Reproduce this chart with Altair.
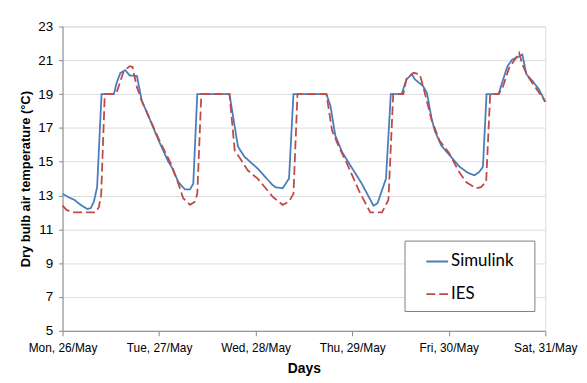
import altair as alt
import pandas as pd

# ---- data (hours since Mon 00:00) ----
sim_hours = [0, 1.5, 2.9, 4.5, 6.2, 7.0, 7.8, 8.6, 9.7, 12.75, 13.5, 14.4, 15.6, 16.7,
             18.5, 19.7, 21.0, 24.0, 26.3, 27.1, 28.8, 30.4, 31.7, 32.5, 33.5, 41.5,
             43.6, 45.2, 48.5, 52.2, 53.0, 54.7, 56.3, 57.4, 65.6, 66.6, 67.8, 69.5,
             71.5, 74.4, 77.3, 78.3, 80.4, 81.6, 84.3, 85.5, 86.8, 87.6, 89.6, 90.6,
             91.7, 92.5, 94.1, 96.6, 98.7, 100.8, 102.4, 103.6, 104.5, 105.4, 108.4,
             109.4, 110.6, 111.8, 113.1, 114.3, 115.3, 116.8, 118.4, 120.0]
sim_temp = [13.1, 12.9, 12.75, 12.45, 12.2, 12.25, 12.64, 13.5, 19.0, 19.0, 19.7, 20.26,
            20.42, 20.1, 20.07, 18.6, 17.9, 16.2, 15.0, 14.7, 13.8, 13.37, 13.37, 13.7,
            19.0, 19.0, 15.9, 15.3, 14.6, 13.62, 13.49, 13.43, 14.0, 19.0, 19.0, 18.3,
            16.55, 15.57, 14.8, 13.7, 12.4, 12.55, 14.0, 19.0, 19.0, 19.87, 20.17, 19.87,
            19.48, 19.05, 17.6, 16.85, 15.97, 15.28, 14.7, 14.34, 14.2, 14.4, 14.7, 19.0,
            19.0, 19.78, 20.65, 21.05, 21.18, 21.34, 20.17, 19.78, 19.29, 18.55]

ies_hours = [0, 1.0, 2.5, 8.2, 9.0, 9.6, 10.5, 12.75, 13.6, 15.2, 16.7, 17.4, 18.5, 19.7,
             24.0, 27.1, 28.8, 30.0, 31.7, 32.9, 33.5, 34.5, 41.5, 42.8, 44.4, 46.0,
             48.5, 50.2, 52.2, 54.7, 56.3, 57.4, 58.4, 65.6, 67.0, 68.7, 70.7, 73.6,
             76.5, 79.4, 81.0, 82.2, 84.7, 85.5, 87.2, 88.8, 89.7, 91.7, 93.7, 96.2,
             98.3, 100.3, 102.8, 104.0, 105.3, 106.3, 108.4, 109.4, 111.0, 112.7, 113.5,
             114.3, 115.6, 117.6, 120.0]
ies_temp = [12.4, 12.15, 12.0, 12.0, 12.3, 13.0, 19.0, 19.0, 19.2, 20.36, 20.65, 20.6,
            19.4, 18.6, 16.3, 14.8, 13.7, 12.84, 12.45, 12.64, 13.1, 19.0, 19.0, 15.67,
            15.1, 14.5, 14.0, 13.52, 12.94, 12.45, 12.64, 13.1, 19.0, 19.0, 16.85, 15.87,
            14.9, 13.33, 12.0, 12.0, 12.74, 19.0, 19.0, 19.9, 20.26, 20.17, 19.4, 17.5,
            16.26, 15.48, 14.5, 13.8, 13.43, 13.5, 13.8, 19.0, 19.0, 19.38, 20.55, 21.14,
            21.44, 20.75, 20.07, 19.38, 18.55]

day_labels = ["Mon, 26/May", "Tue, 27/May", "Wed, 28/May",
              "Thu, 29/May", "Fri, 30/May", "Sat, 31/May"]
day_ticks = [0, 24, 48, 72, 96, 120]
y_ticks = [5, 7, 9, 11, 13, 15, 17, 19, 21, 23]
series_names = ["Simulink", "IES"]

assert len(sim_hours) == len(sim_temp)
assert len(ies_hours) == len(ies_temp)

df = pd.concat([
    pd.DataFrame({"hour": sim_hours, "temp": sim_temp, "series": "Simulink", "o": range(len(sim_hours))}),
    pd.DataFrame({"hour": ies_hours, "temp": ies_temp, "series": "IES", "o": range(len(ies_hours))}),
])

FONT = "Lato"
label_js = "[" + ",".join("'" + s + "'" for s in day_labels) + "]"

legend_kw = dict(title=".", titleOrient="right", titleOpacity=0, titleFontSize=2,
                 titlePadding=11,
                 orient="none", legendX=345, legendY=216,
                 fillColor="white", strokeColor="#808080",
                 padding=9, symbolType="stroke", symbolSize=484,
                 symbolStrokeWidth=2, labelFontSize=17,
                 labelFont=FONT, labelColor="#000000",
                 rowPadding=13, symbolOffset=12, labelOffset=2)

chart = alt.Chart(df).mark_line(strokeWidth=1.8).encode(
    x=alt.X("hour:Q",
            scale=alt.Scale(domain=[0, 120], nice=False, zero=False),
            axis=alt.Axis(values=day_ticks, labelExpr=label_js + "[round(datum.value/24)]",
                          grid=False, title="Days", tickSize=5, labelPadding=7,
                          labelOverlap=False, labelBound=False, labelFlush=False,
                          titlePadding=8, labelFontSize=12, titleFontSize=14)),
    y=alt.Y("temp:Q",
            scale=alt.Scale(domain=[5, 23], nice=False, zero=False),
            axis=alt.Axis(values=y_ticks, grid=True, title="Dry bulb air temperature (°C)",
                          tickSize=4, labelPadding=6, titlePadding=5,
                          labelOverlap=False,
                          labelFontSize=13.5, titleFontSize=13)),
    color=alt.Color("series:N",
                    scale=alt.Scale(domain=series_names, range=["#4A7EBB", "#BE4B48"]),
                    legend=alt.Legend(**legend_kw)),
    strokeDash=alt.StrokeDash("series:N",
                              scale=alt.Scale(domain=series_names, range=[[1, 0], [9, 4]]),
                              legend=alt.Legend(**legend_kw)),
    order="o:Q",
).properties(
    width=487, height=307,
    autosize=alt.AutoSizeParams(type="none"),
    padding={"left": 55, "top": 17, "right": 34, "bottom": 50},
).configure_view(stroke=None).configure_axis(
    labelFont=FONT, titleFont=FONT, labelColor="#404040", titleColor="#000000",
    titleFontWeight="bold", gridColor="#C4C4C4", domainColor="#A6A6A6",
    tickColor="#A6A6A6", gridWidth=1, domainWidth=1,
).configure(background="white")

chart.save("out.html", embed_options={"renderer": "svg", "actions": False})
